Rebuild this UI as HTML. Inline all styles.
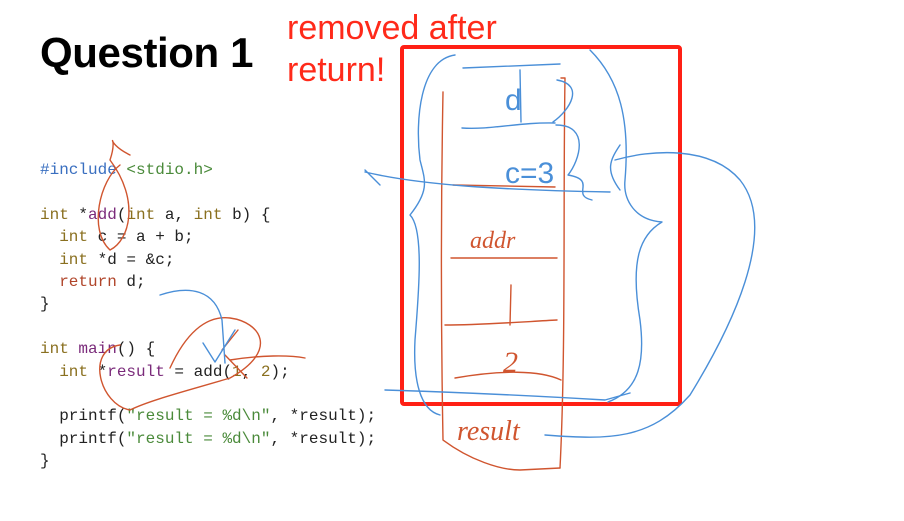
<!DOCTYPE html>
<html><head><meta charset="utf-8"><style>
html,body{margin:0;padding:0;background:#fff;}
body{width:904px;height:521px;position:relative;overflow:hidden;font-family:"Liberation Sans",sans-serif;}
.t{position:absolute;left:40px;top:29px;font-weight:bold;font-size:42px;color:#000;letter-spacing:-0.4px;}
.r{position:absolute;left:287px;top:7px;font-size:34px;color:#ff2a1a;line-height:42px;}
pre{position:absolute;left:40px;top:159px;margin:0;font-family:"Liberation Mono",monospace;font-size:16px;line-height:22.4px;color:#222;}
.k{color:#8a7020}.f{color:#7a2a7a}.p{color:#3a6fc0}.s{color:#4a8a3a}.rt{color:#b0452a}
</style></head><body>
<div class="t">Question 1</div>
<div class="r">removed after<br>return!</div>
<pre><span class="p">#include</span> <span class="s">&lt;stdio.h&gt;</span>

<span class="k">int</span> *<span class="f">add</span>(<span class="k">int</span> a, <span class="k">int</span> b) {
  <span class="k">int</span> c = a + b;
  <span class="k">int</span> *d = &amp;c;
  <span class="rt">return</span> d;
}

<span class="k">int</span> <span class="f">main</span>() {
  <span class="k">int</span> *<span class="f">result</span> = add(<span class="k">1</span>, <span class="k">2</span>);

  printf(<span class="s">"result = %d\n"</span>, *result);
  printf(<span class="s">"result = %d\n"</span>, *result);
}</pre>
<svg width="904" height="521" style="position:absolute;left:0;top:0" fill="none" stroke-linecap="round" stroke-linejoin="round">
<rect x="402" y="47" width="278" height="357" stroke="#ff2015" stroke-width="4" rx="2"/>
<g stroke="#d0552f" stroke-width="1.4">
<path d="M443 92 C441 200 441 330 443 440 C470 460 500 470 520 470 L560 468"/>
<path d="M561 78 L565 78 C563 200 566 350 560 468"/>
<path d="M453 185 L555 187"/>
<path d="M451 258 L557 258"/>
<path d="M445 325 C480 325 520 322 557 320"/>
<path d="M455 378 C500 370 540 370 561 380"/>
<path d="M511 285 L510 325"/>
<path d="M120 165 C100 180 88 230 110 250 C130 240 140 200 110 160 C120 130 100 140 130 155"/>
<path d="M170 368 C185 335 205 315 230 318 C260 322 280 350 230 378 C190 390 150 400 130 410 C100 405 85 350 120 345"/>
<path d="M222 350 L238 330 M225 355 L247 378 M230 360 C260 355 290 355 305 358"/>
</g>
<g fill="#d0552f" font-family="'Liberation Serif',serif" font-size="26" font-style="italic" stroke="none">
<text x="470" y="248" font-size="24">addr</text>
<text x="503" y="372" font-size="30">2</text>
<text x="457" y="440" font-size="28">result</text>
</g>
<g stroke="#4a8fd8" stroke-width="1.4">
<path d="M463 68 L560 64"/>
<path d="M462 128 C490 130 520 122 555 123"/>
<path d="M520 70 L521 122"/>
<path d="M455 55 C420 60 415 120 420 160 C425 180 430 190 410 215 C425 230 418 300 415 340 C413 380 420 410 440 415"/>
<path d="M590 50 C620 80 630 120 625 180 C623 200 635 220 662 222 C640 235 630 260 640 320 C645 360 640 390 608 402"/>
<path d="M365 170 L380 185 M365 172 C420 185 500 190 610 192"/>
<path d="M557 80 C585 85 570 110 553 122 M556 125 C590 125 580 160 568 175 C598 180 570 195 592 200"/>
<path d="M620 145 C610 160 605 170 620 190 M615 160 C650 150 710 145 740 180 C780 230 730 330 690 395 C650 440 610 440 545 435"/>
<path d="M385 390 C450 392 520 395 605 400 L630 393"/>
<path d="M160 295 C190 285 215 290 222 320 L225 363 M203 343 L215 362 L235 330"/>
</g>
<g fill="#4a8fd8" font-family="'Liberation Sans',sans-serif" stroke="none">
<text x="505" y="183" font-size="30">c=3</text>
<text x="505" y="110" font-size="30">d</text>
</g>
</svg>
</body></html>
